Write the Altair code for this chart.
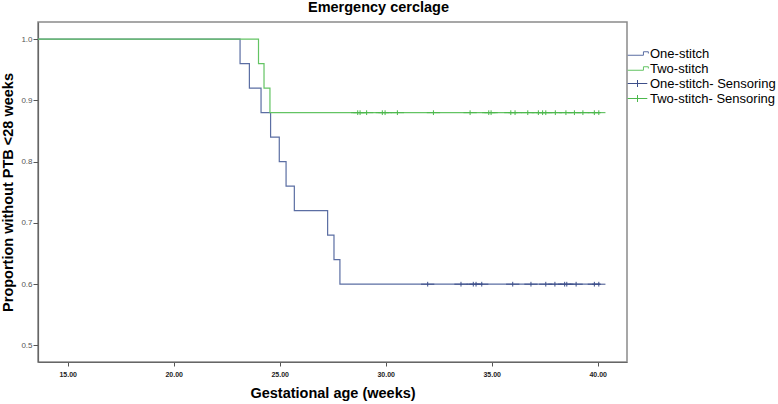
import altair as alt
import pandas as pd

# ---- data ----
one_times = [0.0, 23.13, 23.57, 24.12, 24.57, 24.98, 25.30, 25.69, 27.26, 27.56, 27.84, 40.10]
one_surv = [1.00, 0.96, 0.92, 0.88, 0.84, 0.80, 0.76, 0.72, 0.68, 0.64, 0.60, 0.60]
two_times = [0.0, 24.00, 24.26, 24.54, 40.10]
two_surv = [1.00, 0.96, 0.92, 0.88, 0.88]

one_censor = [31.98, 33.55, 34.13, 34.26, 34.53, 35.99, 36.85, 37.55, 37.98, 38.44, 38.54, 38.98, 39.84, 40.05]
one_censor_level = 0.60
two_censor = [28.68, 28.79, 29.10, 29.84, 29.97, 30.55, 32.25, 33.98, 34.86, 34.97,
              35.90, 36.10, 36.70, 37.20, 37.40, 37.55, 38.00, 38.50, 38.90, 39.30, 39.84, 40.05]
two_censor_level = 0.88

series = ["One-stitch", "Two-stitch", "One-stitch- Sensoring", "Two-stitch- Sensoring"]
colors = ["#5b6ea3", "#63c463", "#3d4f8a", "#4cb84c"]

step_path = "M-1.4,0.25 L0.85,0.25 L0.85,-0.25 L1.55,-0.25 L1.55,0"
plus_path = "M-1.4,0 L1.4,0 M0,-0.5 L0,0.5"
shapes = [step_path, step_path, plus_path, plus_path]

x_ticks = [15, 20, 25, 30, 35, 40]
y_ticks = [0.5, 0.6, 0.7, 0.8, 0.9, 1.0]

lines = pd.DataFrame(
    [{"t": t, "s": s, "series": series[0]} for t, s in zip(one_times, one_surv)]
    + [{"t": t, "s": s, "series": series[1]} for t, s in zip(two_times, two_surv)]
)
cens = pd.DataFrame(
    [{"t": t, "s": one_censor_level, "series": series[2]} for t in one_censor]
    + [{"t": t, "s": two_censor_level, "series": series[3]} for t in two_censor]
)

xscale = alt.Scale(domain=[13.6, 41.38], nice=False, zero=False)
yscale = alt.Scale(domain=[0.473, 1.028], nice=False, zero=False)
color = alt.Color("series:N", scale=alt.Scale(domain=series, range=colors),
                  legend=alt.Legend(title=None, orient="none", legendX=592, legendY=24,
                                    symbolSize=196, symbolStrokeWidth=1,
                                    symbolFillColor="transparent",
                                    labelFont="Liberation Sans", labelFontSize=13,
                                    labelColor="#000", labelOffset=5, rowPadding=-2.5,
                                    padding=0))

xaxis = alt.Axis(values=x_ticks, format=".2f", title="Gestational age (weeks)",
                 labelFont="Liberation Sans", labelFontWeight="bold", labelFontSize=7,
                 labelColor="#222", labelPadding=4, tickSize=4, grid=False,
                 titleFont="Liberation Sans", titleFontSize=14.5, titleFontWeight="bold",
                 titleColor="#000", titleBaseline="alphabetic", titleY=35)
yaxis = alt.Axis(values=y_ticks, format=".1f", title="Proportion without PTB <28 weeks",
                 labelFont="Liberation Sans", labelFontSize=8, labelColor="#555",
                 labelPadding=1, tickSize=5, grid=False,
                 titleFont="Liberation Sans", titleFontSize=14.5, titleFontWeight="bold",
                 titleColor="#000", titleAngle=270, titleAlign="center",
                 titleBaseline="middle", titleX=-30, titleY=170)

line_layer = alt.Chart(lines).mark_line(interpolate="step-after", strokeWidth=1.2, clip=True).encode(
    x=alt.X("t:Q", scale=xscale, axis=xaxis),
    y=alt.Y("s:Q", scale=yscale, axis=yaxis),
    color=color,
    detail="series:N",
)

pt_layer = alt.Chart(cens).mark_point(filled=False, strokeWidth=1, size=90, opacity=1).encode(
    x=alt.X("t:Q", scale=xscale),
    y=alt.Y("s:Q", scale=yscale),
    color=color,
    shape=alt.Shape("series:N", scale=alt.Scale(domain=series, range=shapes), legend=None),
)

chart = alt.layer(line_layer, pt_layer).properties(
    width=589, height=340,
    autosize=alt.AutoSizeParams(type="none"),
    padding={"left": 38, "top": 22, "right": 151, "bottom": 42},
    title=alt.Title("Emergency cerclage", font="Liberation Sans", fontSize=14.5,
                    fontWeight="bold", color="#000", baseline="bottom", offset=6.5,
                    dx=46, dy=13.5),
).configure_view(
    stroke="#8a8a8a", strokeWidth=1.5
).configure_axis(
    domainColor="#666", domainWidth=1.2, tickColor="#555", tickWidth=1
)

chart.save("out.html", embed_options={"renderer": "svg", "actions": False})
